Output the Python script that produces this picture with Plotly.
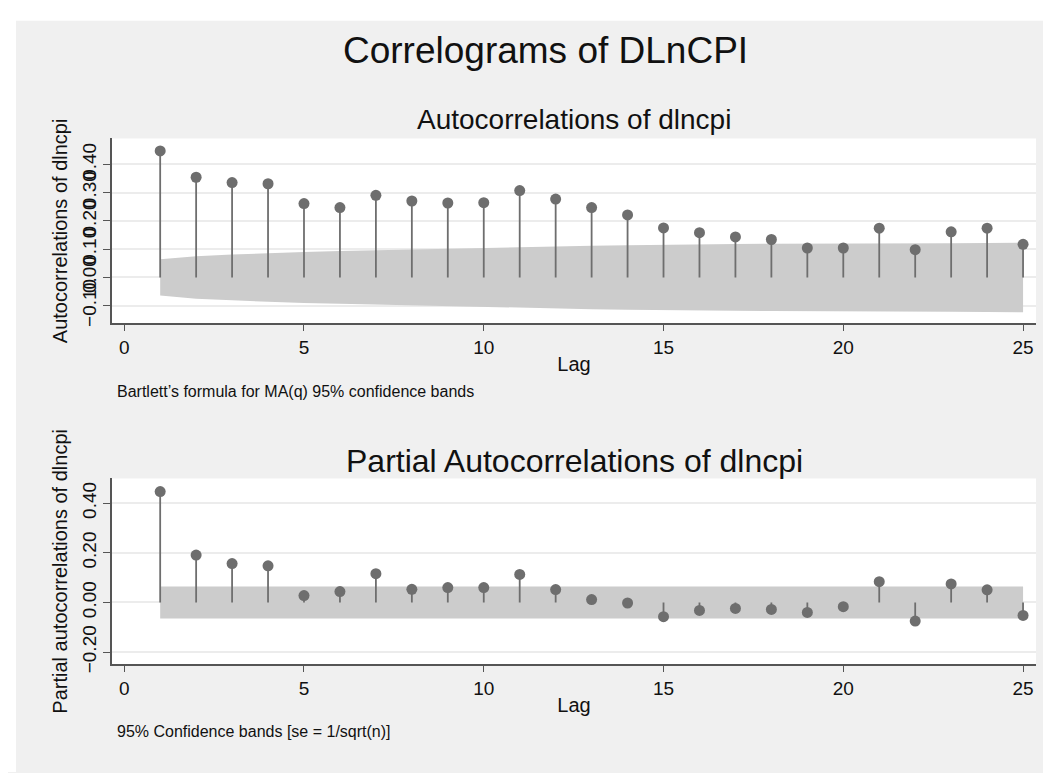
import plotly.graph_objects as go
from plotly.subplots import make_subplots

# lags 1..25
lags = list(range(1, 26))

# autocorrelations of dlncpi
acf = [0.447, 0.354, 0.335, 0.331, 0.261, 0.247, 0.290, 0.270, 0.263, 0.264,
       0.307, 0.277, 0.247, 0.221, 0.175, 0.158, 0.143, 0.134, 0.104, 0.104,
       0.174, 0.098, 0.161, 0.174, 0.117]
# Bartlett 95% band half-width, read per lag
acf_band = [0.064, 0.075, 0.081, 0.086, 0.090, 0.093, 0.096, 0.099, 0.102, 0.104,
            0.107, 0.110, 0.112, 0.114, 0.116, 0.117, 0.118, 0.119, 0.119, 0.120,
            0.120, 0.121, 0.121, 0.122, 0.123]

# partial autocorrelations of dlncpi
pacf = [0.447, 0.191, 0.157, 0.148, 0.028, 0.044, 0.116, 0.053, 0.060, 0.060,
        0.113, 0.052, 0.012, -0.002, -0.057, -0.032, -0.024, -0.028, -0.040, -0.017,
        0.084, -0.075, 0.075, 0.051, -0.052]
# se = 1/sqrt(n) band half-width
pacf_band = [0.064] * 25

acf_ticks = [-0.1, 0.0, 0.1, 0.2, 0.3, 0.4]
pacf_ticks = [-0.2, 0.0, 0.2, 0.4]
lag_ticks = [0, 5, 10, 15, 20, 25]

W, H = 1051, 773
FONT = "Liberation Sans, Arial, Helvetica, sans-serif"
DOT = "#6e6e6e"
BAND = "#cccccc"
AXIS = "#555555"
GRID = "#ececec"


def px(x):
    return x / W


def py(y):
    return 1 - y / H


fig = make_subplots(rows=2, cols=1)


def add_panel(row, vals, band):
    # confidence band
    fig.add_trace(go.Scatter(x=lags, y=band, mode="lines", line={"width": 0},
                             hoverinfo="skip", showlegend=False), row=row, col=1)
    fig.add_trace(go.Scatter(x=lags, y=[-b for b in band], mode="lines",
                             line={"width": 0}, fill="tonexty", fillcolor=BAND,
                             hoverinfo="skip", showlegend=False), row=row, col=1)
    # spikes
    sx, sy = [], []
    for k, v in zip(lags, vals):
        sx += [k, k, None]
        sy += [0, v, None]
    fig.add_trace(go.Scatter(x=sx, y=sy, mode="lines",
                             line={"color": DOT, "width": 1.8},
                             hoverinfo="skip", showlegend=False), row=row, col=1)
    fig.add_trace(go.Scatter(x=lags, y=vals, mode="markers",
                             marker={"color": DOT, "size": 11},
                             showlegend=False), row=row, col=1)


add_panel(1, acf, acf_band)
add_panel(2, pacf, pacf_band)

xdom = [px(104), px(1028)]
common_x = dict(
    domain=xdom, range=[-0.34, 25.36], tickvals=lag_ticks,
    showgrid=False, zeroline=False, showline=True, linecolor=AXIS, linewidth=1.5,
    ticks="outside", ticklen=6, tickcolor=AXIS, tickwidth=1.3,
    tickfont={"size": 19, "color": "#111"},
    title={"text": "Lag", "font": {"size": 20, "color": "#111"}, "standoff": 0},
)
fig.update_xaxes(**common_x, row=1, col=1)
fig.update_xaxes(**common_x, row=2, col=1)

common_y = dict(
    zeroline=False, showline=True, linecolor=AXIS, linewidth=1.5,
    ticks="outside", ticklen=7, tickcolor=AXIS, tickwidth=1.3,
    showgrid=True, gridcolor=GRID, gridwidth=1.5,
    tickangle=-90, tickformat=".2f",
    tickfont={"size": 19, "color": "#111"},
)
fig.update_yaxes(**common_y, domain=[py(319), py(132)], range=[-0.162, 0.491],
                 tickvals=acf_ticks,
                 title={"text": "Autocorrelations of dlncpi",
                        "font": {"size": 20, "color": "#111"}, "standoff": 6},
                 row=1, col=1)
fig.update_yaxes(**common_y, domain=[py(664), py(476)], range=[-0.249, 0.5],
                 tickvals=pacf_ticks,
                 title={"text": "Partial autocorrelations of dlncpi",
                        "font": {"size": 20, "color": "#111"}, "standoff": 6},
                 row=2, col=1)

annotations = [
    dict(text="Correlograms of DLnCPI", x=px(537), y=py(43), font={"size": 37}),
    dict(text="Autocorrelations of dlncpi", x=px(566), y=py(113), font={"size": 28}),
    dict(text="Partial Autocorrelations of dlncpi", x=px(566), y=py(458), font={"size": 32}),
    dict(text="Bartlett\u2019s formula for MA(q) 95% confidence bands", x=px(107), y=py(388),
         xanchor="left", font={"size": 16}),
    dict(text="95% Confidence bands [se = 1/sqrt(n)]", x=px(107), y=py(732),
         xanchor="left", font={"size": 16}),
]
for a in annotations:
    a.setdefault("xanchor", "center")
    a["font"]["color"] = "#111"
    fig.add_annotation(xref="paper", yref="paper", yanchor="middle", showarrow=False, **a)

# white strips at the top and left edge outside the gray graph region
fig.add_shape(type="rect", xref="paper", yref="paper", x0=0, x1=px(8), y0=0, y1=1,
              fillcolor="white", line={"width": 0}, layer="below")
fig.add_shape(type="rect", xref="paper", yref="paper", x0=0, x1=1, y0=py(13), y1=1,
              fillcolor="white", line={"width": 0}, layer="below")

fig.update_layout(
    width=W, height=H,
    margin={"l": 0, "r": 0, "t": 0, "b": 0},
    paper_bgcolor="#f0f0f0",
    plot_bgcolor="white",
    font={"family": FONT, "color": "#111"},
    showlegend=False,
)

fig.write_html("out.html")
